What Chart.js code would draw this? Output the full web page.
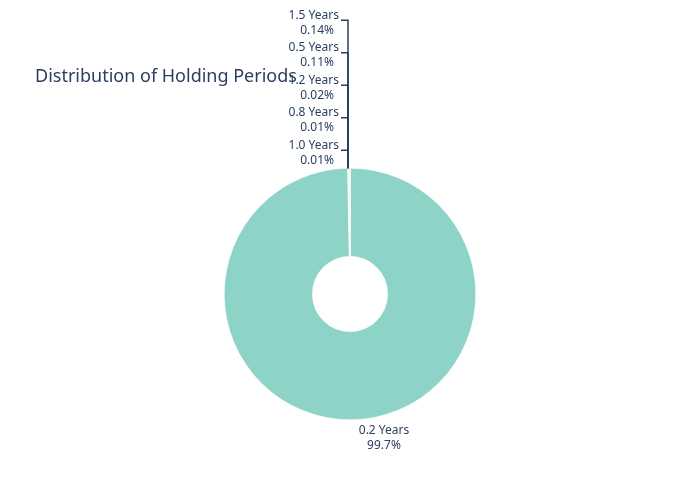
<!DOCTYPE html>
<html>
<head>
<meta charset="utf-8">
<script src="https://cdn.jsdelivr.net/npm/chart.js@4"></script>
<style>
  body { margin: 0; background: #fff; }
  #wrap { width: 700px; height: 500px; position: relative; }
</style>
</head>
<body>
<div id="wrap"><canvas id="c" width="700" height="500"></canvas></div>
<script>
const categories = ['0.2 Years', '1.5 Years', '0.5 Years', '1.2 Years', '0.8 Years', '1.0 Years'];
const shares = [99.7, 0.14, 0.11, 0.02, 0.01, 0.01];
const shareLabels = ['99.7%', '0.14%', '0.11%', '0.02%', '0.01%', '0.01%'];
const colors = ['#8dd3c7', '#ffffb3', '#bebada', '#fb8072', '#80b1d3', '#fdb462'];

const FONT = '"Source Sans Pro", "Noto Sans", sans-serif';
const TEXT = '#2a3f5f';

const labelPlugin = {
  id: 'pieLabels',
  afterDraw(chart) {
    const ctx = chart.ctx;
    const arcs = chart.getDatasetMeta(0).data;
    ctx.save();
    // title
    ctx.fillStyle = TEXT;
    ctx.font = '18px ' + FONT;
    ctx.textBaseline = 'middle';
    ctx.textAlign = 'left';
    ctx.fillText('Distribution of Holding Periods', 35, 77);

    ctx.font = '12px ' + FONT;
    ctx.textAlign = 'center';
    // big slice label below the pie
    const big = arcs[0];
    ctx.fillText(categories[0], big.x + 34, big.y + big.outerRadius + 11);
    ctx.fillText(shareLabels[0], big.x + 34, big.y + big.outerRadius + 26);

    // small slices stacked above, with leader lines
    const topY = big.y - big.outerRadius;
    const lineX = big.x - 2;
    ctx.strokeStyle = TEXT;
    ctx.lineWidth = 1.5;
    ctx.textAlign = 'right';
    for (let i = 1; i < arcs.length; i++) {
      const k = arcs.length - i; // 1.0 Years lowest
      const y0 = topY - 23 - (k - 1) * 32.5;
      ctx.fillText(categories[i], lineX - 9, y0);
      ctx.fillText(shareLabels[i], lineX - 14, y0 + 15);
      ctx.beginPath();
      ctx.moveTo(lineX, topY);
      ctx.lineTo(lineX, y0 + 5);
      ctx.lineTo(lineX - 7, y0 + 5);
      ctx.stroke();
    }
    ctx.restore();
  }
};

new Chart(document.getElementById('c'), {
  type: 'doughnut',
  data: {
    labels: categories,
    datasets: [{
      data: shares,
      backgroundColor: colors,
      borderColor: '#ffffff',
      borderWidth: 0.5
    }]
  },
  options: {
    responsive: false,
    animation: false,
    cutout: '30%',
    layout: { padding: { top: 168, bottom: 80, left: 224, right: 224 } },
    plugins: { legend: { display: false }, tooltip: { enabled: false } }
  },
  plugins: [labelPlugin]
});
</script>
</body>
</html>
